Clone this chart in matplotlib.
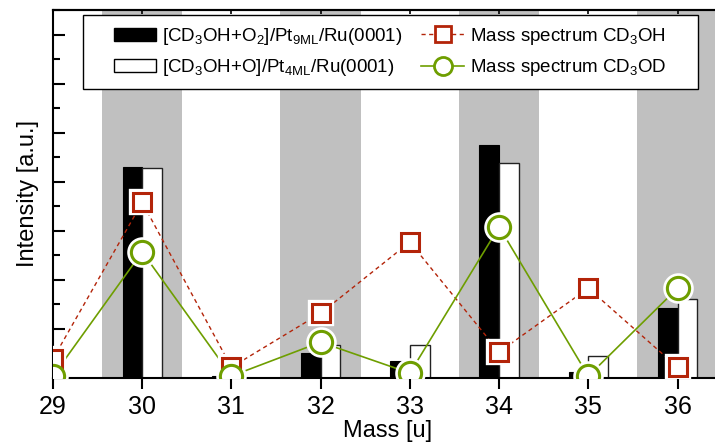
import matplotlib
matplotlib.use('Agg')
import matplotlib.pyplot as plt
from matplotlib.ticker import MultipleLocator
from matplotlib.patches import Patch, Rectangle
from matplotlib.lines import Line2D

plt.rcParams['font.family'] = ['Liberation Sans', 'DejaVu Sans']
plt.rcParams['mathtext.fontset'] = 'custom'
plt.rcParams['mathtext.rm'] = 'Liberation Sans'
plt.rcParams['mathtext.it'] = 'Liberation Sans:italic'

mass = [29, 30, 31, 32, 33, 34, 35, 36]

# TPD yields for the two surfaces (no bar at 29)
bar_mass = [30, 31, 32, 33, 34, 35, 36]
pt9ml = [4.30, 0.04, 0.51, 0.35, 4.75, 0.12, 1.43]
pt4ml = [4.28, 0.00, 0.67, 0.67, 4.38, 0.45, 1.61]

# reference cracking patterns
ms_cd3oh = [0.39, 3.58, 0.22, 1.32, 2.77, 0.53, 1.83, 0.22]
ms_cd3od = [0.04, 2.57, 0.04, 0.73, 0.10, 3.08, 0.04, 1.83]

band_centers = [30, 32, 34, 36]

red = '#b32409'
green = '#6e9e00'

fig = plt.figure(figsize=(7.15, 4.42), dpi=100)
ax = fig.add_axes([0.0741, 0.1448, 0.9259 + 0.01, 0.8326])

for c in band_centers:
    ax.axvspan(c - 0.45, c + 0.45, color='#c0c0c0', lw=0, zorder=0)

w = 0.22
ax.bar([m - w / 2 for m in bar_mass], pt9ml, width=w, color='black',
       edgecolor='black', lw=0.8, zorder=2)
ax.bar([m + w / 2 for m in bar_mass], pt4ml, width=w, color='white',
       edgecolor='#222222', lw=1.0, zorder=2)

# lines first, then white halos so lines stop short of the symbols
ax.plot(mass, ms_cd3oh, color=red, ls=(0, (3, 2.5)), lw=1.0, zorder=3)
ax.plot(mass, ms_cd3od, color=green, ls='-', lw=1.2, zorder=3)
ax.plot(mass, ms_cd3oh, ls='none', marker='s', ms=13, mfc='white',
        mec='white', mew=6, zorder=4)
ax.plot(mass, ms_cd3od, ls='none', marker='o', ms=16, mfc='white',
        mec='white', mew=6, zorder=4)
ax.plot(mass, ms_cd3oh, ls='none', marker='s', ms=13, mfc='white',
        mec=red, mew=2.2, zorder=5)
ax.plot(mass, ms_cd3od, ls='none', marker='o', ms=16, mfc='white',
        mec=green, mew=2.2, zorder=5)

ax.set_xlim(29, 36.5)
ax.set_ylim(0, 7.5)

ax.xaxis.set_major_locator(MultipleLocator(1))
ax.yaxis.set_major_locator(MultipleLocator(1))
ax.yaxis.set_minor_locator(MultipleLocator(0.5))
ax.tick_params(axis='x', which='major', direction='out', length=8, width=1.5,
               labelsize=18, pad=4, top=False)
ax.tick_params(axis='y', which='major', direction='in', length=8.5, width=1.5,
               labelleft=False)
ax.tick_params(axis='y', which='minor', direction='in', length=5, width=1.5)

# small inward ticks along the top edge
top = ax.secondary_xaxis('top')
top.xaxis.set_major_locator(MultipleLocator(1))
top.tick_params(direction='in', length=3, width=1.2, labeltop=False)
top.spines['top'].set_linewidth(1.5)

for s in ['left', 'bottom', 'top']:
    ax.spines[s].set_linewidth(1.5)
ax.spines['right'].set_visible(False)

ax.set_xlabel('Mass [u]', fontsize=17, labelpad=1)
ax.set_ylabel('Intensity [a.u.]', fontsize=17, labelpad=7)

handles = [
    Patch(facecolor='black', edgecolor='black'),
    Patch(facecolor='white', edgecolor='black', lw=1.0),
    Line2D([], [], color=red, ls=(0, (3, 2.5)), lw=1.0, marker='s', ms=11,
           mfc='white', mec=red, mew=2),
    Line2D([], [], color=green, lw=1.2, marker='o', ms=13,
           mfc='white', mec=green, mew=2),
]
labels = [
    r'[CD$_3$OH+O$_2$]/Pt$_{\mathregular{9ML}}$/Ru(0001)',
    r'[CD$_3$OH+O]/Pt$_{\mathregular{4ML}}$/Ru(0001)',
    r'Mass spectrum CD$_3$OH',
    r'Mass spectrum CD$_3$OD',
]

# legend box drawn separately so the padding can be wider than tall
box = Rectangle((83 / 715, 1 - 89 / 442), 615 / 715, 74 / 442,
                transform=fig.transFigure, facecolor='white',
                edgecolor='black', lw=1.0, zorder=9)
fig.add_artist(box)
leg = ax.legend(handles, labels, ncol=2, loc='upper left',
                bbox_to_anchor=(114 / 715, 1 - 26 / 442),
                bbox_transform=fig.transFigure,
                fontsize=13.5, frameon=False, handlelength=2.25,
                handletextpad=0.32, columnspacing=1.0, borderpad=0,
                borderaxespad=0, labelspacing=0.55)
leg.set_zorder(10)
fig.legends.append(leg)
ax.get_legend().remove()

fig.savefig('out.png', dpi=100)
